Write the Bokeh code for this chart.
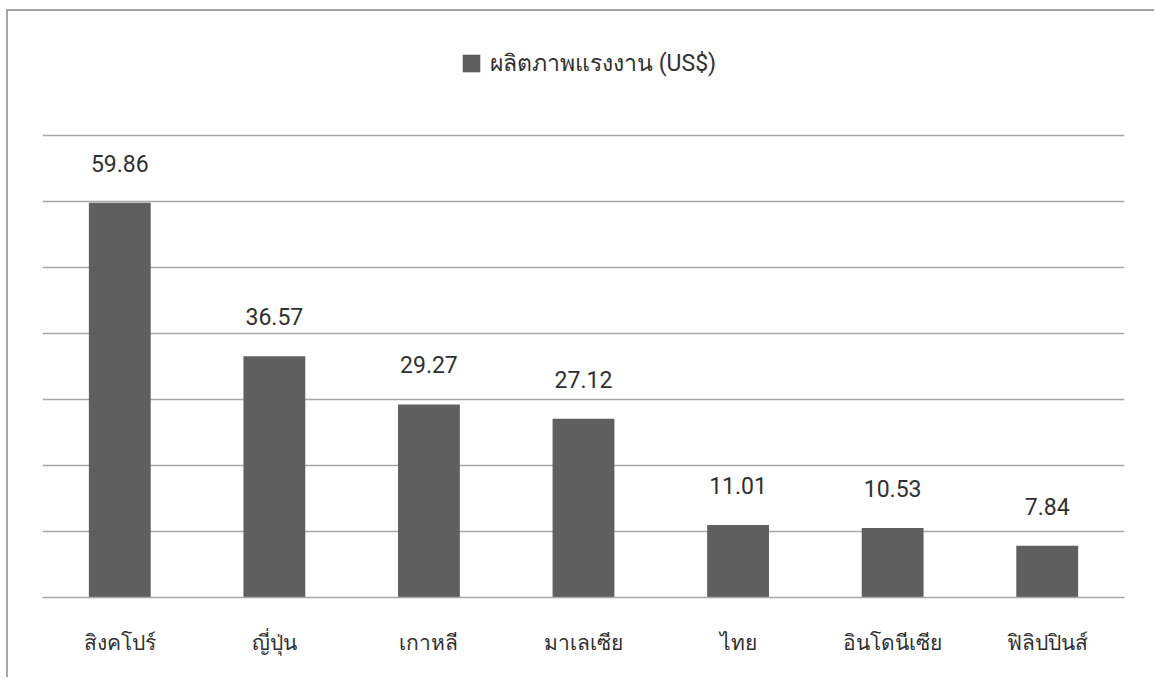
from bokeh.plotting import figure
from bokeh.models import (ColumnDataSource, LabelSet, FixedTicker, Legend, LegendItem,
                          Range1d, FactorRange)
from bokeh.core.properties import value
from bokeh.embed import file_html
from bokeh.resources import INLINE

countries = ["สิงคโปร์", "ญี่ปุ่น", "เกาหลี", "มาเลเซีย", "ไทย", "อินโดนีเซีย", "ฟิลิปปินส์"]
productivity = [59.86, 36.57, 29.27, 27.12, 11.01, 10.53, 7.84]
value_labels = ["59.86", "36.57", "29.27", "27.12", "11.01", "10.53", "7.84"]
series_name = "ผลิตภาพแรงงาน (US$)"
grid_ticks = [0, 10, 20, 30, 40, 50, 60, 70]

FONT = "Roboto"
BAR = "#5f5f5f"
GRID = "#a6a6a6"
TEXT = "#303030"

src = ColumnDataSource(dict(x=countries, top=productivity, lab=value_labels))

p = figure(width=1148, height=668, output_backend="svg", toolbar_location=None,
           x_range=FactorRange(*countries, range_padding=0), y_range=Range1d(0, 84),
           min_border_left=34, min_border_right=32, min_border_top=32, min_border_bottom=82)
p.styles = {"border-left": "2px solid #a6a6a6", "border-top": "2px solid #a6a6a6",
            "margin-left": "6px", "margin-top": "9px"}
p.outline_line_color = None
p.background_fill_color = "white"
p.border_fill_color = "white"

r = p.vbar(x="x", top="top", width=0.4, source=src, fill_color=BAR, line_color=None)

p.yaxis.visible = False
p.xgrid.visible = False
p.ygrid.ticker = FixedTicker(ticks=grid_ticks)
p.ygrid.grid_line_color = GRID
p.ygrid.grid_line_width = 1.3

p.xaxis.axis_line_color = GRID
p.xaxis.axis_line_width = 1.3
p.xaxis.major_tick_line_color = None
p.xaxis.minor_tick_line_color = None
p.xaxis.major_label_text_font = FONT
p.xaxis.major_label_text_font_size = "21px"
p.xaxis.major_label_text_color = TEXT
p.xaxis.major_label_standoff = 27

labels = LabelSet(x="x", y="top", text="lab", source=src, text_align="center",
                  text_baseline="alphabetic", y_offset=31, text_font=value(FONT),
                  text_font_size=value("23px"), text_color=TEXT)
p.add_layout(labels)

legend = Legend(items=[LegendItem(label=series_name, renderers=[r])],
                location=(418, 516), orientation="horizontal",
                glyph_width=22, glyph_height=22, label_standoff=8,
                padding=0, margin=0, spacing=0,
                border_line_alpha=0, background_fill_alpha=0,
                label_text_font=FONT, label_text_font_size="23px",
                label_text_color=TEXT, label_height=22)
p.add_layout(legend, "center")

open("out.html", "w").write(file_html(p, INLINE))
